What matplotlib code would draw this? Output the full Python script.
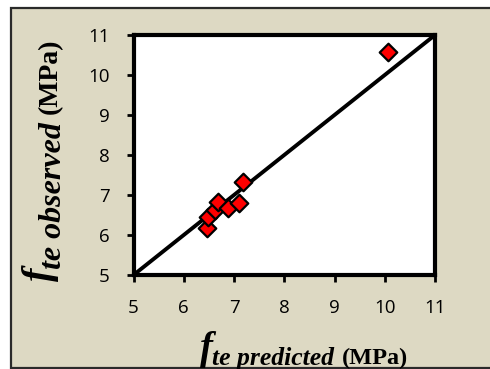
import matplotlib.pyplot as plt
from matplotlib.patches import Rectangle

# predicted vs observed (MPa)
predicted = [6.46, 6.48, 6.62, 6.68, 6.89, 7.09, 7.17, 10.06]
observed = [6.17, 6.45, 6.63, 6.83, 6.67, 6.79, 7.33, 10.58]
line_x = [5, 11]
ticks = [5, 6, 7, 8, 9, 10, 11]

W, H = 490, 369
fig = plt.figure(figsize=(W / 100, H / 100), dpi=100)
fig.patch.set_facecolor('white')
fig.patches.append(Rectangle((11 / W, 1.5 / H), 2.0, (361 - 1.5) / H,
                             transform=fig.transFigure, facecolor='#ddd9c3',
                             edgecolor='#2a2a2a', linewidth=1.6, zorder=-10))

ax = fig.add_axes([133.5 / W, 1 - 275 / H, 301.5 / W, 240 / H])
ax.set_facecolor('white')
ax.plot(line_x, line_x, color='black', linewidth=2.8, zorder=2)
ax.scatter(predicted, observed, marker='D', s=80, c='#ff0000',
           edgecolors='black', linewidths=1.6, zorder=3, clip_on=False)

ax.set_xlim(5, 11)
ax.set_ylim(5, 11)
ax.set_xticks(ticks)
ax.set_yticks(ticks)
for s in ax.spines.values():
    s.set_linewidth(3)
ax.tick_params(direction='out', length=5, width=2, labelsize=13.5, pad=12)
for lab in ax.get_xticklabels() + ax.get_yticklabels():
    lab.set_fontfamily('Open Sans')

# axis titles, built piece by piece (big f, subscript, units)
fig.canvas.draw()
r = fig.canvas.get_renderer()
serif = dict(family='Liberation Serif', fontweight='bold')


def chain(pieces, start, vertical):
    pos = start
    for txt, size, style, base, gap in pieces:
        if vertical:
            t = fig.text(base / W, 1 - pos / H, txt, fontsize=size, fontstyle=style,
                         rotation=90, rotation_mode='anchor', ha='left',
                         va='baseline', **serif)
            pos -= t.get_window_extent(r).height + gap
        else:
            t = fig.text(pos / W, 1 - base / H, txt, fontsize=size, fontstyle=style,
                         ha='left', va='baseline', **serif)
            pos += t.get_window_extent(r).width + gap


chain([('f', 28, 'italic', 359, -1),
       ('te predicted', 18.5, 'italic', 365, 8),
       ('(MPa)', 17.5, 'normal', 364, 0)], 200, False)
chain([('f', 29, 'italic', 50, -1),
       ('te observed', 23, 'italic', 61, 8),
       ('(MPa)', 20, 'normal', 57, 0)], 281, True)

fig.savefig('out.png', dpi=100)
